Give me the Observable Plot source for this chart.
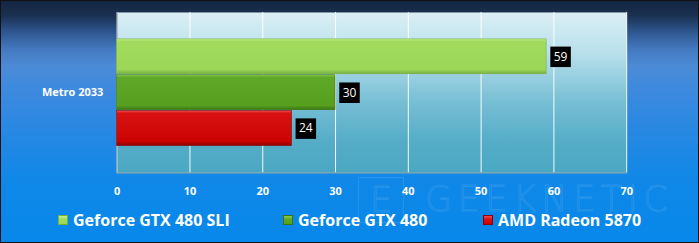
<!DOCTYPE html>
<html>
<head>
<meta charset="utf-8">
<script src="https://cdn.jsdelivr.net/npm/d3@7"></script>
<script src="https://cdn.jsdelivr.net/npm/@observablehq/plot@0.6"></script>
<style>
  html, body { margin: 0; padding: 0; }
  #chart {
    position: relative; width: 697px; height: 241px; overflow: hidden;
    border: 1px solid #111;
    background: linear-gradient(to bottom, #142642 0%, #1a3050 6%, #2c5288 12%, #4479c0 20%, #4c8bd6 27%, #3e8ade 36%, #2a88e2 52%, #0f88e8 75%, #0788ea 100%);
    font-family: "Open Sans", sans-serif;
  }
  #chart svg { position: absolute; left: -1px; top: -1px; }
  .legend-item { position: absolute; top: 208px; display: flex; align-items: center; color: white; font-weight: 700; font-size: 16px; white-space: nowrap; }
  .legend-swatch { width: 10px; height: 10px; margin-right: 5px; box-sizing: border-box; }
  .wm { position: absolute; font-family: "DejaVu Sans", sans-serif; font-size: 35px; font-weight: 300; color: transparent; -webkit-text-stroke: 1px rgba(255,255,255,0.11); pointer-events: none; line-height: 1; }
  #wm1 { left: 424px; top: 181px; letter-spacing: 5.5px; }
  #wm0 { left: 357px; top: 176px; width: 46px; height: 46px; border: 1px solid rgba(255,255,255,0.10); box-sizing: border-box; text-align: center; padding-top: 5px; }
</style>
</head>
<body>
<div id="chart"></div>
<script>
const category = ["Metro 2033"];
const series = ["Geforce GTX 480 SLI", "Geforce GTX 480", "AMD Radeon 5870"];
const values = [59, 30, 24];
const xTicks = [0, 10, 20, 30, 40, 50, 60, 70];
const seriesColors = [
  ["#c4ee92", "#a2dc5e", "#9bd657", "#78b040"],
  ["#8ccb52", "#60a827", "#579f1f", "#3c7612"],
  ["#f24a4a", "#d81212", "#cb0202", "#8e0000"]
];
const legendLeft = [58, 283, 483];
const watermark = ["E", "GEEKNETIC"];

const data = series.map((s, i) => ({category: category[0], series: s, value: values[i]}));

function defs() {
  const d = d3.create("svg:defs");
  const bg = d.append("linearGradient").attr("id", "plotbg").attr("x1", 0).attr("y1", 0).attr("x2", 0).attr("y2", 1);
  [[0, "#dbeff5"], [0.25, "#b9e0eb"], [0.55, "#78bfd5"], [0.8, "#55adc7"], [1, "#4aa7c2"]]
    .forEach(([o, c]) => bg.append("stop").attr("offset", o).attr("stop-color", c));
  seriesColors.forEach((cs, i) => {
    const g = d.append("linearGradient").attr("id", "bar" + i).attr("x1", 0).attr("y1", 0).attr("x2", 0).attr("y2", 1);
    [[0, cs[0]], [0.07, cs[1]], [0.88, cs[2]], [1, cs[3]]]
      .forEach(([o, c]) => g.append("stop").attr("offset", o).attr("stop-color", c));
  });
  return d.node();
}

const plot = Plot.plot({
  width: 699,
  height: 205,
  marginLeft: 117,
  marginRight: 71,
  marginTop: 12,
  marginBottom: 32,
  style: {background: "transparent", color: "white", fontFamily: "'Open Sans', sans-serif", overflow: "visible"},
  x: {domain: [0, 70]},
  fy: {domain: category, padding: 0},
  y: {domain: series, paddingOuter: 0.74, paddingInner: 0.015, axis: null},
  marks: [
    defs,
    Plot.frame({fill: "url(#plotbg)"}),
    Plot.gridX(xTicks, {stroke: "white", strokeOpacity: 0.95, strokeWidth: 1}),
    Plot.frame({anchor: "bottom", stroke: "#9aa7ad"}),
    Plot.frame({anchor: "left", stroke: "#9aa7ad"}),
    ...series.map((s, i) => Plot.barX(data.filter(d => d.series === s), {
      x: "value", y: "series", fy: "category",
      fill: `url(#bar${i})`, stroke: seriesColors[i][3], strokeWidth: 0.6
    })),
    Plot.dot(data, {x: "value", y: "series", fy: "category", symbol: "square", r: 11.6, fill: "black", dx: 14}),
    Plot.text(data, {x: "value", y: "series", fy: "category", text: d => String(d.value), fill: "white", dx: 14, fontSize: 12}),
    Plot.axisX(xTicks, {tickSize: 0, tickPadding: 14, fontSize: 11, fontWeight: "bold", tickFormat: d => String(d), label: null}),
    Plot.axisFy({anchor: "left", tickSize: 0, tickPadding: 14, fontSize: 11, fontWeight: "bold", label: null})
  ]
});

const chart = document.getElementById("chart");
chart.appendChild(plot);

watermark.forEach((w, i) => {
  const el = document.createElement("div");
  el.className = "wm";
  el.id = "wm" + i;
  el.textContent = w;
  chart.appendChild(el);
});

series.forEach((s, i) => {
  const item = document.createElement("div");
  item.className = "legend-item";
  item.style.left = (legendLeft[i] - 1) + "px";
  const sw = document.createElement("div");
  sw.className = "legend-swatch";
  const cs = seriesColors[i];
  sw.style.background = `linear-gradient(to bottom, ${cs[0]} 0%, ${cs[1]} 40%, ${cs[2]} 100%)`;
  sw.style.border = `1px solid ${cs[3]}`;
  const t = document.createElement("span");
  t.textContent = s;
  item.appendChild(sw);
  item.appendChild(t);
  chart.appendChild(item);
});
</script>
</body>
</html>
